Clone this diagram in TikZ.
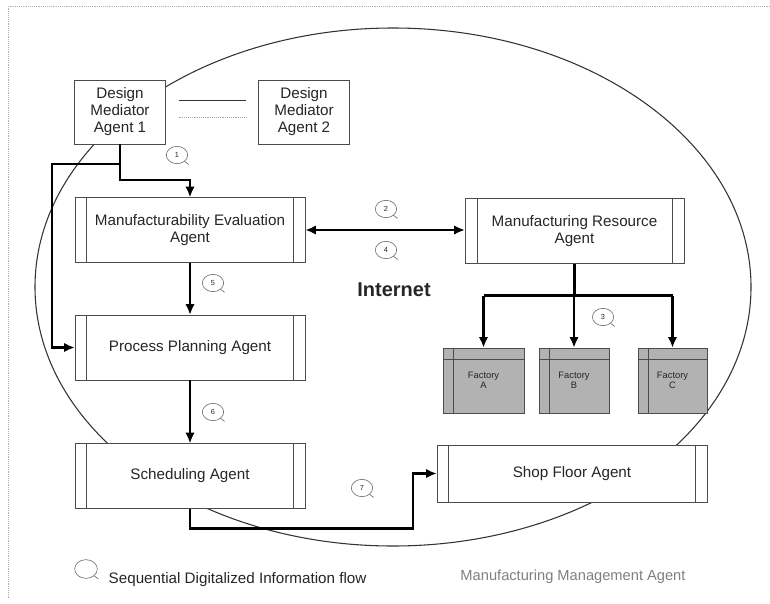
\documentclass[tikz,border=0pt]{standalone}
\usepackage{fontspec}
\setmainfont{Liberation Sans}
\usetikzlibrary{arrows.meta,shapes.geometric}

\begin{document}
\begin{tikzpicture}[x=0.75pt, y=-0.75pt,
    every node/.style={text=black!85, font=\fontsize{11.4}{12.8}\selectfont},
    agent/.style={draw=black!70, fill=white, minimum width=172.5pt, minimum height=48.5pt, inner sep=0pt, align=center},
    mediator/.style={draw=black!70, fill=white, minimum width=68pt, minimum height=48pt, inner sep=0pt, align=center},
    factory/.style={draw=black!70, fill=black!30, minimum height=48.75pt, inner sep=0pt, align=center, font=\fontsize{7}{7.5}\selectfont},
    bar/.style={draw=black!70},
    flow/.style={line width=1.8pt, -{Latex[length=8pt,width=7pt]}},
    seqmark/.style={ellipse, draw=black!65, minimum width=16pt, minimum height=13pt, inner sep=0pt, font=\fontsize{5.5}{5.5}\selectfont},
    seqtail/.style={draw=black!65}]
    \useasboundingbox (0,0) rectangle (770,603);
    \draw[gray!60, densely dotted] (8,598) -- (8,6) -- (770,6);
    % management agent boundary, drawn first so the boxes sit on top
    \draw[black!80, line width=0.8pt] (393,287) ellipse [x radius=358, y radius=259];

    \node[mediator] (dma1) at (120,112) {Design\\Mediator\\Agent 1};
    \node[mediator] (dma2) at (304,112) {Design\\Mediator\\Agent 2};
    \draw[black!80, shorten <=9.75pt, shorten >=9pt] (dma1.east |- 0,100) -- (dma2.west |- 0,100);
    \draw[black!35, densely dotted, shorten <=9.75pt, shorten >=9pt] (dma1.east |- 0,117) -- (dma2.west |- 0,117);

    \node[agent] (mea) at (190,230) {Manufacturability Evaluation\\Agent};
    \node[agent] (ppa) at (190,347.5) {Process Planning Agent};
    \node[agent] (sa) at (190,476) {Scheduling Agent};
    \node[agent, minimum width=164pt] (mra) at (574.5,231) {Manufacturing Resource\\Agent};
    \node[agent, minimum width=202.5pt, minimum height=42.75pt] (sfa) at (572,473.5) {Shop Floor Agent};
    \foreach \a in {mea,ppa,sa,mra,sfa} {
        \draw[bar] ([xshift=9pt]\a.north west) -- ([xshift=9pt]\a.south west);
        \draw[bar] ([xshift=-9pt]\a.north east) -- ([xshift=-9pt]\a.south east);
    }

    \node[factory, minimum width=60.75pt] (fa) at (483.5,380.5) {Factory\\A};
    \node[factory, minimum width=52.5pt] (fb) at (574,380.5) {Factory\\B};
    \node[factory, minimum width=52pt] (fc) at (672.5,380.5) {Factory\\C};
    \foreach \f in {fa,fb,fc} {
        \draw[bar] ([yshift=-9pt]\f.north west) -- ([yshift=-9pt]\f.north east);
        \draw[bar] ([xshift=8.25pt]\f.north west) -- ([xshift=8.25pt]\f.south west);
    }

    \node[font=\fontsize{15}{15}\selectfont\bfseries] (net) at (394,290) {Internet};

    % information flow
    \draw[flow] (dma1.south) -- ++(0,36) -| (mea.north);
    \draw[flow] (dma1.south) ++(0,20) -- ++(-68,0) |- (ppa.west);
    \draw[flow, {Latex[length=8pt,width=7pt]}-{Latex[length=8pt,width=7pt]}] (mea.east) -- (mea.east -| mra.west);
    \draw[line width=1.8pt] (mra.south) -- ++(0,32) coordinate (bus);
    \draw[line width=1.8pt] (fa.north |- bus) -- (fc.north |- bus);
    \foreach \f in {fa,fb,fc}
        \draw[flow] (\f.north |- bus) -- (\f.north);
    \draw[flow] (mea.south) -- (ppa.north);
    \draw[flow] (ppa.south) -- (sa.north);
    \draw[flow] (sa.south) -- ++(0,20) -- ++(223,0) |- (sfa.west);

    % sequence marks
    \node[seqmark] (m1) at (177,155) {1};
    \node[seqmark] (m2) at (386,209) {2};
    \node[seqmark] (m3) at (603,317) {3};
    \node[seqmark] (m4) at (386,250) {4};
    \node[seqmark] (m5) at (213,283) {5};
    \node[seqmark] (m6) at (213,412) {6};
    \node[seqmark] (m7) at (362,488) {7};
    \node[seqmark, minimum width=17pt, minimum height=14pt] (key) at (86,569) {};
    \foreach \m in {m1,m2,m3,m4,m5,m6,m7,key}
        \draw[seqtail] (\m.-40) -- ++(4,3);

    \node[anchor=west] (keytext) at (104,580) {Sequential Digitalized Information flow};
    \node[text=black!50, font=\fontsize{11}{11}\selectfont] (mma) at (573,577) {Manufacturing Management Agent};
\end{tikzpicture}
\end{document}
